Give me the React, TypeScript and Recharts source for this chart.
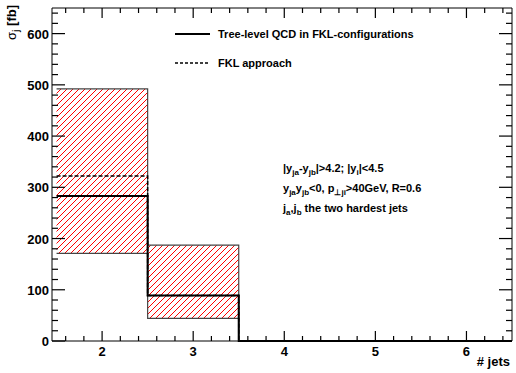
import React from 'react';
import { ComposedChart, Area, Line, XAxis, YAxis } from 'recharts';

// histogram: number of jets vs cross section
const JETS = [2, 3, 4, 5, 6];
const TREE_LEVEL = [283, 89, 0, 0, 0];
const FKL_APPROACH = [322, 89, 0, 0, 0];
const BAND_LOW = [171, 44, 0, 0, 0];
const BAND_HIGH = [492, 187, 0, 0, 0];
const Y_LABELS = [0, 100, 200, 300, 400, 500, 600];
const X_LABELS = [2, 3, 4, 5, 6];

const W = 516;
const H = 373;
const PLOT_TOP = 8;
const PLOT_RIGHT = 512;
const FONT = 'Liberation Sans, Arial, sans-serif';

const data = JETS.map((j, i) => ({
  edge: j - 0.5,
  tree: TREE_LEVEL[i],
  fkl: FKL_APPROACH[i],
  band: [BAND_LOW[i], BAND_HIGH[i]],
}));
const last = JETS.length - 1;
data.push({
  edge: JETS[last] + 0.5,
  tree: TREE_LEVEL[last],
  fkl: FKL_APPROACH[last],
  band: [BAND_LOW[last], BAND_HIGH[last]],
});

const xTicks: number[] = [];
for (let i = 8; i <= 32; i++) xTicks.push(i / 5);
const yTicks: number[] = [];
for (let v = 0; v <= 640; v += 20) yTicks.push(v);

const YTick = (props: any) => {
  const { x, y, payload } = props;
  const major = Y_LABELS.indexOf(payload.value) >= 0;
  const len = major ? 13 : 6;
  return (
    <g>
      <line x1={x} x2={x + len} y1={y} y2={y} stroke="#000" strokeWidth={1.2} />
      <line x1={PLOT_RIGHT - len} x2={PLOT_RIGHT} y1={y} y2={y} stroke="#000" strokeWidth={1.2} />
      {major ? (
        <text x={x - 3} y={y + 5} textAnchor="end" fill="#000" style={{ fontFamily: FONT, fontWeight: 700, fontSize: 13 }}>
          {payload.value}
        </text>
      ) : null}
    </g>
  );
};

const XTick = (props: any) => {
  const { x, y, payload } = props;
  const major = X_LABELS.some((l) => Math.abs(l - payload.value) < 1e-6);
  const len = major ? 10 : 5;
  return (
    <g>
      <line x1={x} x2={x} y1={y} y2={y - len} stroke="#000" strokeWidth={1.2} />
      <line x1={x} x2={x} y1={PLOT_TOP} y2={PLOT_TOP + len} stroke="#000" strokeWidth={1.2} />
      {major ? (
        <text x={x} y={y + 15} textAnchor="middle" fill="#000" style={{ fontFamily: FONT, fontWeight: 700, fontSize: 13 }}>
          {Math.round(payload.value)}
        </text>
      ) : null}
    </g>
  );
};

const sub: React.CSSProperties = { fontSize: 8, position: 'relative', top: 3 };
const row: React.CSSProperties = { height: 20, lineHeight: '20px', whiteSpace: 'nowrap' };
const bold: React.CSSProperties = { fontFamily: FONT, fontWeight: 700 };

export default function App() {
  return (
    <div style={{ position: 'absolute', left: 0, top: 0 }}>
      <svg width={0} height={0} style={{ position: 'absolute' }}>
        <defs>
          <pattern id="hh" patternUnits="userSpaceOnUse" width={6} height={6}>
            <path d="M0,6 L6,0 M-1,1 L1,-1 M5,7 L7,5" stroke="#ff0000" strokeWidth={1} fill="none" />
          </pattern>
        </defs>
      </svg>
      <ComposedChart width={W} height={H} data={data} margin={{ top: PLOT_TOP, right: W - PLOT_RIGHT, left: 0, bottom: 0 }}>
        <XAxis
          dataKey="edge"
          type="number"
          domain={[1.45, 6.5]}
          ticks={xTicks}
          interval={0}
          tick={<XTick />}
          tickLine={false}
          axisLine={{ stroke: '#000' }}
          tickSize={0}
          tickMargin={0}
          height={32}
        />
        <YAxis
          type="number"
          domain={[0, 650]}
          ticks={yTicks}
          interval={0}
          tick={<YTick />}
          tickLine={false}
          axisLine={{ stroke: '#000' }}
          tickSize={0}
          tickMargin={0}
          width={52}
        />
        <Area dataKey="band" type="stepAfter" fill="url(#hh)" fillOpacity={1} stroke="#444" strokeWidth={1.2} isAnimationActive={false} />
        <Line dataKey="fkl" type="stepAfter" stroke="#000" strokeWidth={1.5} strokeDasharray="4 2" dot={false} isAnimationActive={false} />
        <Line dataKey="tree" type="stepAfter" stroke="#000" strokeWidth={2} dot={false} isAnimationActive={false} />
      </ComposedChart>
      <svg width={W} height={H} style={{ position: 'absolute', left: 0, top: 0, pointerEvents: 'none' }}>
        <path d={`M52,${PLOT_TOP}H${PLOT_RIGHT}V341`} stroke="#000" strokeWidth={1} fill="none" />
        <text transform="translate(16,5) rotate(-90)" textAnchor="end" fill="#000" style={{ ...bold, fontSize: 13 }}>
          <tspan style={{ fontWeight: 400 }}>σ</tspan>
          <tspan fontSize={9} dy={3}>j</tspan>
          <tspan dy={-3}> [fb]</tspan>
        </text>
        <text x={510} y={366} textAnchor="end" fill="#000" style={{ ...bold, fontSize: 13 }}>
          # jets
        </text>
        <line x1={175} x2={210} y1={34} y2={34} stroke="#000" strokeWidth={1.8} />
        <text x={218} y={38} fill="#000" style={{ ...bold, fontSize: 11 }}>
          Tree-level QCD in FKL-configurations
        </text>
        <line x1={175} x2={210} y1={63} y2={63} stroke="#000" strokeWidth={1.5} strokeDasharray="3 2" />
        <text x={218} y={67} fill="#000" style={{ ...bold, fontSize: 11 }}>
          FKL approach
        </text>
      </svg>
      <div style={{ position: 'absolute', left: 283, top: 158, fontSize: 11, color: '#000', ...bold }}>
        <div style={row}>
          |y<span style={sub}>ja</span>-y<span style={sub}>jb</span>|&gt;4.2; |y<span style={sub}>i</span>|&lt;4.5
        </div>
        <div style={row}>
          y<span style={sub}>ja</span>y<span style={sub}>jb</span>&lt;0, p<span style={sub}>⊥ji</span>&gt;40GeV, R=0.6
        </div>
        <div style={row}>
          j<span style={sub}>a</span>,j<span style={sub}>b</span> the two hardest jets
        </div>
      </div>
    </div>
  );
}
